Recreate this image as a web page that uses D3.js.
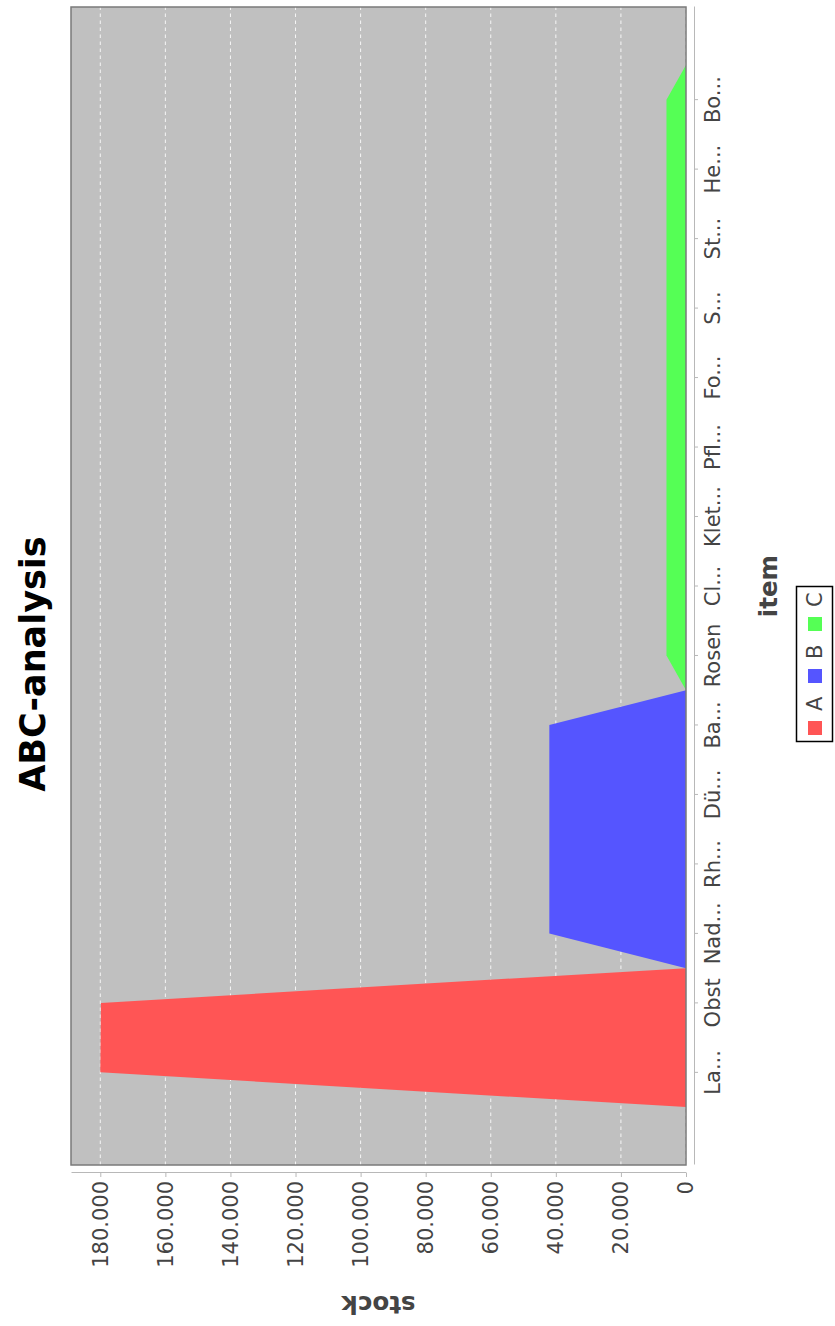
<!DOCTYPE html>
<html><head><meta charset="utf-8">
<script src="https://cdn.jsdelivr.net/npm/d3@7"></script>
<style>body{margin:0;background:#fff}svg{display:block}</style>
</head><body><svg id="c" width="835" height="1326"></svg>
<script>
// ---- data ----
const categories = ["La...","Obst","Nad...","Rh...","Dü...","Ba...","Rosen","Cl...","Klet...","Pfl...","Fo...","S...","St...","He...","Bo..."];
const seriesNames = ["A","B","C"];
const seriesA = [180000,179800,null,null,null,null,null,null,null,null,null,null,null,null,null];
const seriesB = [null,null,42000,42000,42000,42000,null,null,null,null,null,null,null,null,null];
const seriesC = [null,null,null,null,null,null,6000,6000,6000,6000,6000,6000,6000,6000,6000];
const stockTicks = [0,20000,40000,60000,80000,100000,120000,140000,160000,180000];
const colors = ["#FF5555","#5555FF","#55FF55"];

// ---- layout (drawn in unrotated frame, then rotated -90deg) ----
const W = 1326, H = 835;
const plot = {left:161, right:1319, top:71, bottom:686};
const svg = d3.select("#c");
const g = svg.append("g").attr("transform", `translate(0,${W}) rotate(-90)`);
const FONT = "'DejaVu Sans', sans-serif";

const n = categories.length;
const x = d3.scaleBand().domain(categories).range([plot.left, plot.right])
  .paddingInner(0).paddingOuter(0.05 * n / 0.9);
const y = d3.scaleLinear().domain([0, 189000]).range([plot.bottom, plot.top]);
const de = d3.formatLocale({decimal:",", thousands:".", grouping:[3], currency:["","€"]});
const fmt = de.format(",d");

// plot background
g.append("rect").attr("x",plot.left).attr("y",plot.top)
  .attr("width",plot.right-plot.left).attr("height",plot.bottom-plot.top).attr("fill","#C0C0C0");

// gridlines
g.append("g").selectAll("line").data(stockTicks).join("line")
  .attr("x1",plot.left).attr("x2",plot.right)
  .attr("y1",d=>y(d)).attr("y2",d=>y(d))
  .attr("stroke","#ffffff").attr("stroke-opacity",0.85).attr("stroke-width",1)
  .attr("stroke-dasharray","3.5,3.5");

// areas (JFreeChart-style tapered area renderer)
function pts(vals){
  const out = [];
  vals.forEach((v,i)=>{
    if (v == null) { out.push(null); return; }
    const x0 = x(categories[i]), x2 = x0 + x.bandwidth(), x1 = (x0 + x2) / 2;
    const prev = i > 0 ? vals[i-1] : null, next = i < vals.length-1 ? vals[i+1] : null;
    const y0 = prev != null ? (prev + v) / 2 : 0;
    const y2 = next != null ? (next + v) / 2 : 0;
    out.push([x0,y0],[x1,v],[x2,y2]);
  });
  return out;
}
const area = d3.area().defined(d=>d!==null).x(d=>d[0]).y0(y(0)).y1(d=>y(d[1]));
[seriesA, seriesB, seriesC].forEach((s,k)=>{
  g.append("path").attr("d", area(pts(s))).attr("fill", colors[k]);
});

// outline
g.append("rect").attr("x",plot.left).attr("y",plot.top)
  .attr("width",plot.right-plot.left).attr("height",plot.bottom-plot.top)
  .attr("fill","none").attr("stroke","#7a7a7a").attr("stroke-width",1.5);

// value axis
const yAxis = g.append("g").attr("transform",`translate(${plot.left-8},0)`)
  .call(d3.axisLeft(y).tickValues(stockTicks).tickFormat(fmt).tickSize(4).tickSizeOuter(0).tickPadding(4));
yAxis.select(".domain").attr("stroke","#b8b8b8");
yAxis.selectAll(".tick line").attr("stroke","#b8b8b8");
yAxis.selectAll("text").style("font",`21px ${FONT}`).attr("fill","#444");

// category axis
const xAxis = g.append("g").attr("transform",`translate(0,${plot.bottom+8})`)
  .call(d3.axisBottom(x).tickSize(4).tickSizeOuter(0).tickPadding(7));
xAxis.select(".domain").attr("stroke","#b8b8b8");
xAxis.selectAll(".tick line").attr("stroke","#b8b8b8");
xAxis.selectAll("text").style("font",`21px ${FONT}`).attr("fill","#444");

// axis labels
g.append("text").attr("transform",`translate(30,${(plot.top+plot.bottom)/2}) rotate(-90)`)
  .attr("text-anchor","middle").style("font",`bold 24.5px ${FONT}`).attr("fill","#444").text("stock");
g.append("text").attr("x",(plot.left+plot.right)/2).attr("y",777)
  .attr("text-anchor","middle").style("font",`bold 24.5px ${FONT}`).attr("fill","#444").text("item");

// title
g.append("text").attr("x",662).attr("y",45).attr("text-anchor","middle")
  .style("font",`bold 35px ${FONT}`).attr("fill","#000").text("ABC-analysis");

// legend
const lg = g.append("g");
lg.append("rect").attr("x",584.5).attr("y",796.5).attr("width",155).attr("height",36)
  .attr("fill","#fff").attr("stroke","#000").attr("stroke-width",1.5);
seriesNames.forEach((s,k)=>{
  const lx = 591 + k*52;
  lg.append("rect").attr("x",lx).attr("y",808).attr("width",14).attr("height",14).attr("fill",colors[k]);
  lg.append("text").attr("x",lx+24).attr("y",822).style("font",`21px ${FONT}`).attr("fill","#444").text(s);
});
</script></body></html>
